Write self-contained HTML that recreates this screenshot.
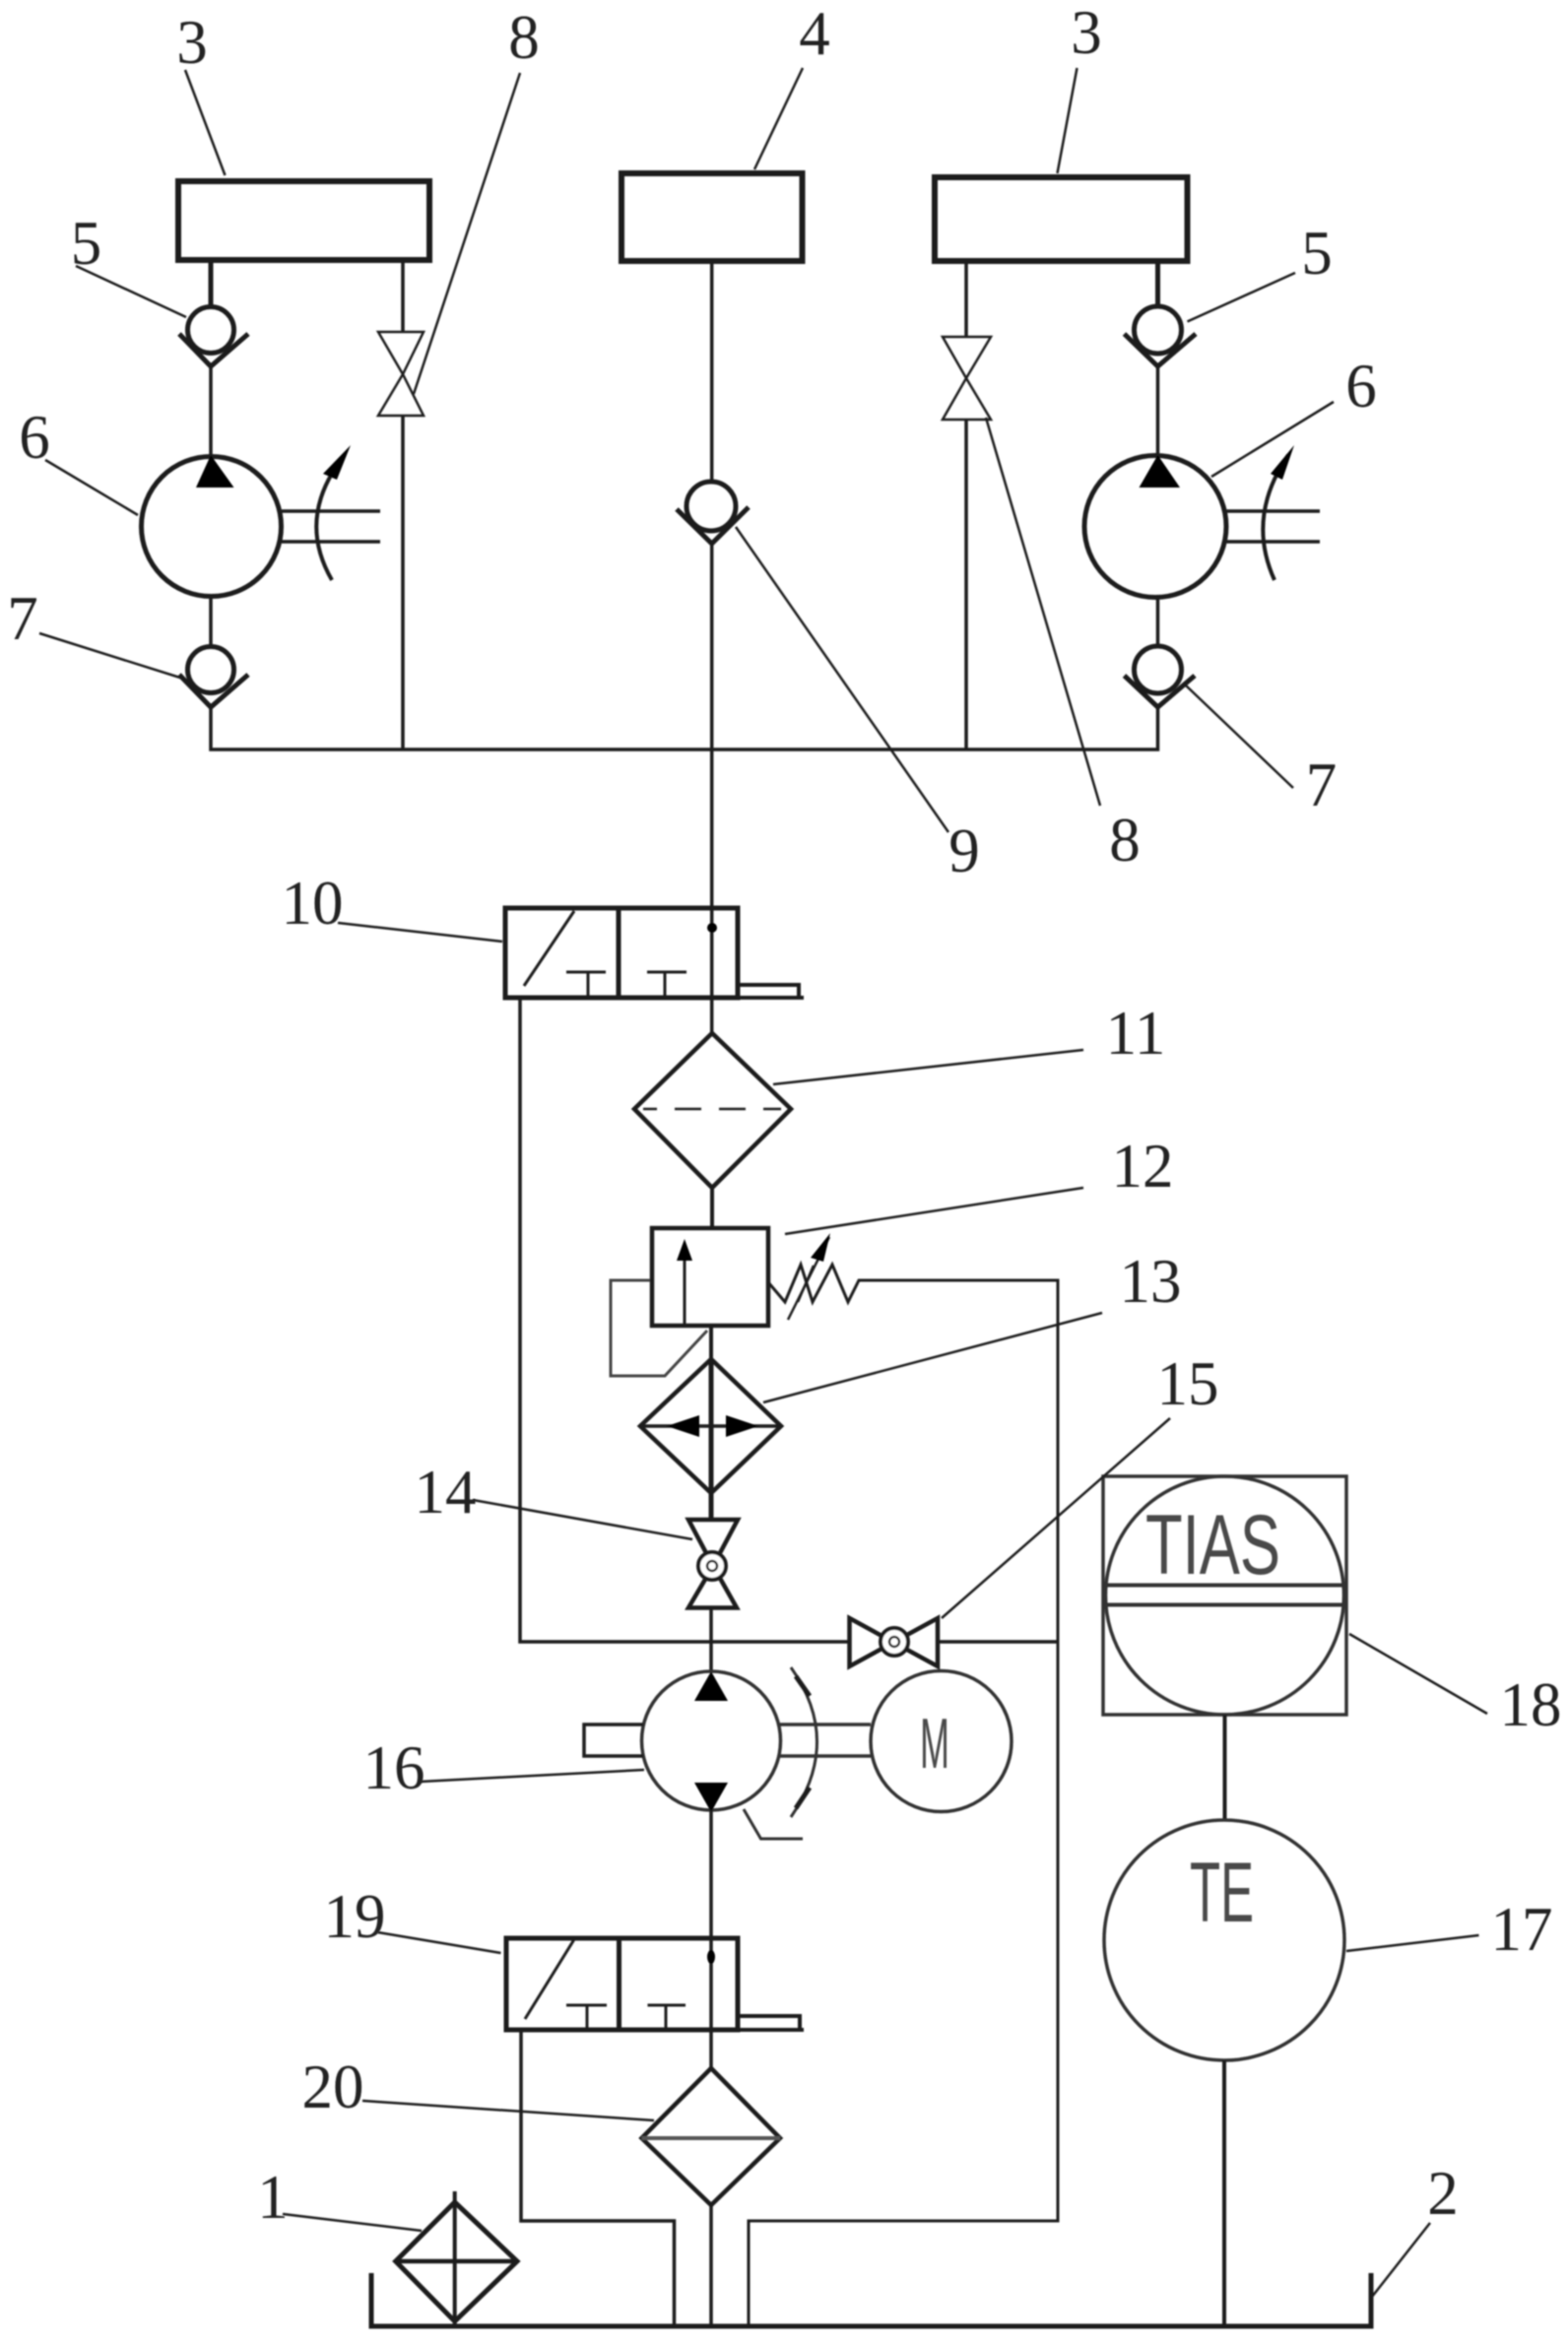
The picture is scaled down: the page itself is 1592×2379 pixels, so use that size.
<!DOCTYPE html>
<html lang="en">
<head>
<meta charset="utf-8">
<title>Hydraulic system diagram</title>
<style>
html,body{margin:0;padding:0;background:#fff}
body{width:1592px;height:2379px;overflow:hidden}
svg{display:block}
.n{font-family:"Liberation Serif",serif;font-size:63px;fill:#222;text-anchor:middle}
.s{font-family:"Liberation Sans",sans-serif;fill:#4a4a4a}
</style>
</head>
<body>
<svg width="1592" height="2379" viewBox="0 0 1592 2379" xmlns="http://www.w3.org/2000/svg">
<defs><filter id="b" x="-2%" y="-2%" width="104%" height="104%"><feGaussianBlur stdDeviation="0.7"/></filter></defs>
<rect width="1592" height="2379" fill="#fff"/>
<g filter="url(#b)" fill="none" stroke="#1c1c1c" stroke-width="3.5">
<!-- top boxes -->
<rect x="181" y="184" width="255" height="80" stroke-width="6"/>
<rect x="631" y="176" width="183.5" height="89" stroke-width="6"/>
<rect x="949" y="180" width="256.5" height="85" stroke-width="6"/>
<!-- left branch -->
<path d="M214 266V311" stroke-width="5"/>
<path d="M214 372V462M214 607V657M214 718V761H1175.5V718M409 266V337M409 422V761M981 266V342M981 426V761"/>
<circle cx="214" cy="335" r="23.5" stroke-width="5"/>
<path d="M182 339L214 372L252 339" stroke-width="5"/>
<circle cx="214" cy="680" r="23.5" stroke-width="5"/>
<path d="M182 685L214 718L252 685" stroke-width="5"/>
<circle cx="214.5" cy="534.5" r="71" stroke-width="5"/>
<polygon points="214,462 199,495 237.5,495" fill="#000" stroke="none"/>
<path d="M286 519H386M286 550H386"/>
<path d="M337 589Q300 525 350 462" stroke-width="4"/>
<polygon points="356,452 328,481 342,487" fill="#000" stroke="none"/>
<path d="M409 380L384 337H430ZM409 380L384 422H430Z" stroke-width="2.5"/>
<!-- right branch -->
<path d="M1175.5 266V311" stroke-width="5"/>
<path d="M1175.5 372V462M1175.5 607V657"/>
<circle cx="1175.5" cy="335" r="24" stroke-width="5"/>
<path d="M1141.5 339L1175.5 372L1214 339" stroke-width="5"/>
<circle cx="1175.5" cy="680" r="24" stroke-width="5"/>
<path d="M1141.5 686L1175.5 718L1213 686" stroke-width="5"/>
<circle cx="1173" cy="534.5" r="72" stroke-width="5"/>
<polygon points="1175.5,462 1156.5,495 1198,495" fill="#000" stroke="none"/>
<path d="M1245 519H1340M1245 550H1340"/>
<path d="M1294 589Q1265 525 1308 462" stroke-width="4"/>
<polygon points="1314,452 1290,481 1302,487" fill="#000" stroke="none"/>
<path d="M981 384L957 342H1006ZM981 384L957 426H1006Z" stroke-width="2.5"/>
<!-- centre top -->
<path d="M722.7 266V489M722.7 552V1049"/>
<circle cx="722" cy="514" r="25" stroke-width="5"/>
<path d="M687 517L722.7 552L760 515" stroke-width="5"/>
<!-- valve 10 -->
<rect x="513" y="922" width="236" height="91" stroke-width="5"/>
<path d="M628 922V1013" stroke-width="5"/>
<path d="M749 1000H811V1013M749 1013H816" stroke-width="4"/>
<path d="M532 1001L583 925" stroke-width="3"/>
<path d="M575 987H615M597 987V1013M657 987H697M675 987V1013" stroke-width="3"/>
<circle cx="723" cy="942" r="5" fill="#000" stroke="none"/>
<path d="M528 1013V1667H862"/>
<!-- filter 11 -->
<polygon points="723,1049 644,1126 723,1206 803,1126" stroke-width="4.5"/>
<path d="M653 1126H667M685 1126H712M730 1126H757M775 1126H793" stroke-width="2.5"/>
<path d="M723 1206V1246" stroke-width="4"/>
<!-- valve 12 -->
<rect x="662" y="1247" width="118" height="99" stroke-width="4.5"/>
<path d="M695 1346V1270" stroke-width="3"/>
<polygon points="695,1258 687,1280 703,1280" fill="#000" stroke="none"/>
<path d="M780 1302L797 1322L813 1284L825 1322L845 1284L861 1322L872 1300H1074V2255H760V2362" stroke-width="3"/>
<path d="M800 1340L842 1256" stroke-width="2.5"/>
<path d="M810 1322L826 1285" stroke-width="2.5"/>
<polygon points="843,1252 823,1277 836,1281" fill="#000" stroke="none"/>
<path d="M660 1300H620V1397H675L718 1351" stroke-width="3" stroke="#444"/>
<path d="M722 1346V1380" stroke-width="4"/>
<!-- 13 -->
<path d="M722 1380L650 1448L722 1516L793 1448Z" stroke-width="4.5"/>
<path d="M722 1380V1543" stroke-width="5"/>
<path d="M650 1448H793" stroke-width="3.5"/>
<polygon points="677,1448 710,1437 710,1459" fill="#000" stroke="none"/>
<polygon points="770,1448 737,1437 737,1459" fill="#000" stroke="none"/>
<!-- 14 -->
<path d="M699 1543H749L724 1590L699 1632.5H748L724 1590Z" stroke-width="4.5"/>
<circle cx="723" cy="1590" r="14" fill="#fff" stroke-width="4"/>
<circle cx="723" cy="1590" r="5" stroke-width="2.5"/>
<path d="M722 1633V1697"/>
<!-- 15 -->
<path d="M954 1667H1074"/>
<path d="M862.5 1643V1692L952 1643V1692Z" stroke-width="4.5"/>
<circle cx="908" cy="1667" r="14" fill="#fff" stroke-width="4"/>
<circle cx="908" cy="1667" r="5" stroke-width="2.5"/>
<!-- pump 16 + motor -->
<circle cx="722" cy="1767.5" r="70.5" stroke="#333"/>
<polygon points="722,1697 705,1727 739,1727" fill="#000" stroke="none"/>
<polygon points="722,1840 705,1810 739,1810" fill="#000" stroke="none"/>
<path d="M653 1751H593V1783H653"/>
<path d="M792 1751H884M792 1783H884" stroke="#333"/>
<circle cx="955.5" cy="1768" r="71.5" stroke="#333"/>
<path d="M803 1693Q856 1768 803 1845" stroke-width="3" stroke="#333"/>
<path d="M808 1702L822 1722M822 1815L808 1836" stroke-width="5"/>
<path d="M755 1837L772.5 1867H815" stroke-width="3" stroke="#333"/>
<path d="M722 1838V2100"/>
<!-- valve 19 -->
<rect x="514" y="1968" width="235" height="93" stroke-width="5"/>
<path d="M628.5 1968V2061" stroke-width="5"/>
<path d="M749 2047H812V2061M749 2061H816" stroke-width="4"/>
<path d="M533 2050L582.5 1970" stroke-width="3"/>
<path d="M575 2036H616M596 2036V2061M657.5 2036H696M676 2036V2061" stroke-width="3"/>
<ellipse cx="722" cy="1987" rx="4" ry="7" fill="#000" stroke="none"/>
<path d="M529 2062V2255H684.5V2362"/>
<!-- filter 20 -->
<polygon points="722,2100 651.5,2171 722,2239 792,2171" stroke-width="4.5"/>
<path d="M651.5 2171H792" stroke="#555" stroke-width="4"/>
<path d="M722 2239V2362"/>
<!-- filter 1 -->
<polygon points="461.7,2236 401.7,2296 461.7,2357 525,2296" stroke-width="5"/>
<path d="M461.7 2225V2362" stroke-width="4"/>
<path d="M401.7 2296H525" stroke-width="4.5"/>
<!-- tank -->
<path d="M377 2308V2362H1392V2308" stroke-width="5"/>
<!-- 18 / 17 -->
<rect x="1120" y="1499" width="247" height="242" stroke-width="3.5" stroke="#333"/>
<circle cx="1243.5" cy="1620" r="121" stroke="#333"/>
<path d="M1120 1609.5H1367M1120 1629.5H1367" stroke-width="4" stroke="#333"/>
<path d="M1243.5 1741V1848" stroke-width="4"/>
<circle cx="1243" cy="1970" r="122" stroke="#333"/>
<path d="M1243 2092V2362" stroke-width="4"/>
<!-- leaders -->
<g stroke-width="2.5">
<path d="M188 71L228.5 178M528 74L420 400M77 270L189 322M46 467L140 523M40 643L186 689"/>
<path d="M1093.5 69L1073.5 176M815 69L766 172M1315 277L1205.5 326.5M1354 408L1230 484M1313 800L1204 696"/>
<path d="M1001 424L1117 818M747 535L963 845"/>
<path d="M343 937L510 956M785 1101L1100 1066M797 1253L1100 1206M775 1424L1119 1333M480 1523L703 1563"/>
<path d="M956 1643L1188 1440M654 1797L427 1809M383.5 1962L508.5 1983M368 2133L664 2153M287 2248L428 2265"/>
<path d="M1370 1659L1510 1740M1367 1981L1501.5 1965M1393 2332L1452 2257"/>
</g>
</g>
<g filter="url(#b)">
<text class="n" x="195" y="64">3</text>
<text class="n" x="532" y="59">8</text>
<text class="n" x="827" y="55">4</text>
<text class="n" x="1103" y="54">3</text>
<text class="n" x="87.5" y="268">5</text>
<text class="n" x="1337" y="278">5</text>
<text class="n" x="35" y="465">6</text>
<text class="n" x="1382" y="413">6</text>
<text class="n" x="23" y="649">7</text>
<text class="n" x="1341.5" y="818">7</text>
<text class="n" x="979" y="885">9</text>
<text class="n" x="1142" y="874">8</text>
<text class="n" x="317" y="938">10</text>
<text class="n" x="1153" y="1070">11</text>
<text class="n" x="1160" y="1205">12</text>
<text class="n" x="1168" y="1322">13</text>
<text class="n" x="452" y="1536">14</text>
<text class="n" x="1206" y="1426">15</text>
<text class="n" x="400" y="1816">16</text>
<text class="n" x="1545" y="1980">17</text>
<text class="n" x="1554" y="1752">18</text>
<text class="n" x="360" y="1967">19</text>
<text class="n" x="338" y="2140">20</text>
<text class="n" x="277" y="2252">1</text>
<text class="n" x="1465" y="2248">2</text>
<text class="s" x="934" y="1795" font-size="72" textLength="30" lengthAdjust="spacingAndGlyphs">M</text>
<text class="s" x="1163" y="1598" font-size="86" textLength="137" lengthAdjust="spacingAndGlyphs">TIAS</text>
<text class="s" x="1208" y="1951" font-size="86" textLength="65" lengthAdjust="spacingAndGlyphs">TE</text>
</g>
</svg>
</body>
</html>
